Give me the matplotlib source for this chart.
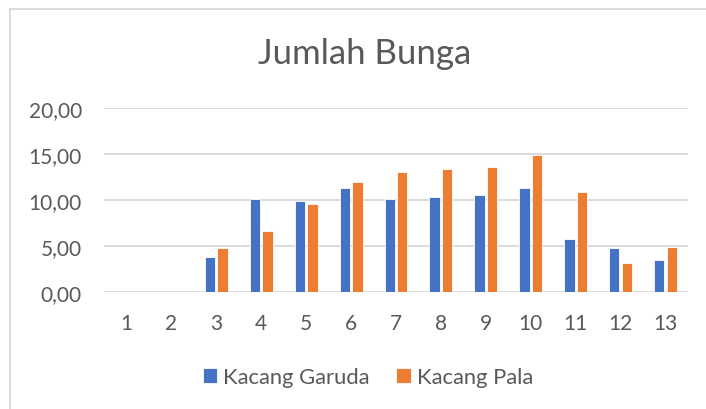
import numpy as np
import matplotlib
matplotlib.use("Agg")
import matplotlib.pyplot as plt
from matplotlib.patches import Rectangle

categories = ["1", "2", "3", "4", "5", "6", "7", "8", "9", "10", "11", "12", "13"]
kacang_garuda = [0, 0, 3.8, 10.1, 9.9, 11.3, 10.1, 10.3, 10.5, 11.3, 5.7, 4.8, 3.5]
kacang_pala = [0, 0, 4.8, 6.6, 9.6, 11.9, 13.0, 13.4, 13.6, 14.9, 10.8, 3.2, 4.9]
y_ticks = [0, 5, 10, 15, 20]

plt.rcParams['font.family'] = ['Lato', 'DejaVu Sans']
text_color = '#595959'

fig = plt.figure(figsize=(7.06, 4.10), dpi=100)
W, H = 706, 410
ax = fig.add_axes([104 / W, (H - 293) / H, (688 - 104) / W, (293 - 108.7) / H])

x = np.arange(len(categories))
ax.bar(x - 0.14, kacang_garuda, width=0.23, color='#4472C4', edgecolor='white',
       linewidth=0.6, label='Kacang Garuda', zorder=3)
ax.bar(x + 0.14, kacang_pala, width=0.23, color='#ED7D31', edgecolor='white',
       linewidth=0.6, label='Kacang Pala', zorder=3)

ax.set_xlim(-0.5, len(categories) - 0.5)
ax.set_ylim(0, 20)
ax.set_yticks(y_ticks)
ax.set_yticklabels([f"{v:.2f}".replace('.', ',') for v in y_ticks])
ax.set_xticks(x)
ax.set_xticklabels(categories)
ax.tick_params(axis='both', length=0, labelsize=15, labelcolor=text_color)
ax.tick_params(axis='y', pad=16)
ax.tick_params(axis='x', pad=15)
ax.grid(axis='y', color='#D9D9D9', linewidth=1.3, zorder=0)
for s in ax.spines.values():
    s.set_visible(False)

fig.text(365 / W, 1 - 64 / H, "Jumlah Bunga", ha='center', va='baseline',
         fontsize=25, color=text_color)

fig.legend(loc='center', bbox_to_anchor=(368 / W, 1 - 378 / H), ncol=2,
           frameon=False, fontsize=15.8, labelcolor=text_color,
           handlelength=0.65, handleheight=0.65, handletextpad=0.3, columnspacing=1.2)

# chart border (right and bottom edges fall outside the crop)
fig.patches.append(Rectangle((10 / W, -0.05), 1.0, 1 - 10 / H + 0.05,
                             transform=fig.transFigure, fill=False,
                             edgecolor='#D9D9D9', linewidth=1.3))

fig.savefig("out.png", dpi=100, facecolor='white')
